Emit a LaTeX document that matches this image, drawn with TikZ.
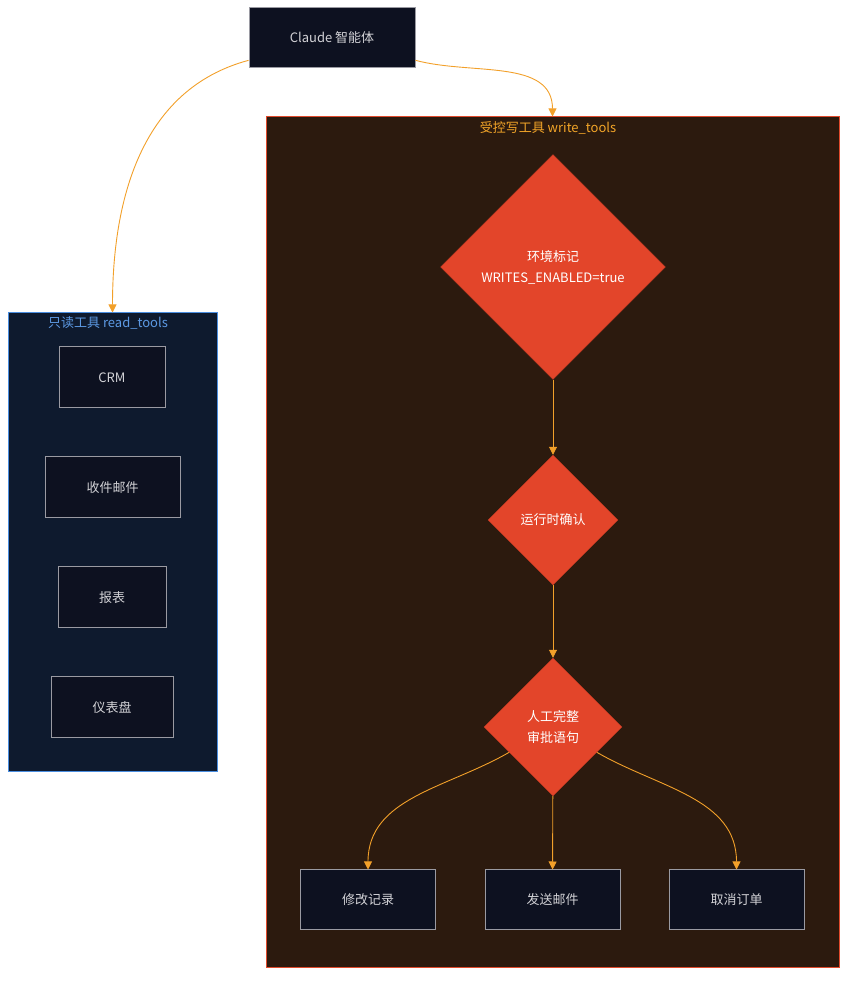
\documentclass[tikz,border=0pt]{standalone}
\usepackage{fontspec}
\setmainfont{Noto Sans CJK SC}
\usepackage{tikz}
\usetikzlibrary{arrows.meta,%
                shapes.geometric}

\definecolor{boxfill}{HTML}{0D1120}
\definecolor{boxline}{HTML}{9A9AA2}
\definecolor{boxtext}{HTML}{D2D2D6}
\definecolor{wfill}{HTML}{2C1A0E}
\definecolor{wline}{HTML}{E04A2C}
\definecolor{rfill}{HTML}{0E1A2E}
\definecolor{rline}{HTML}{4A8EE0}
\definecolor{dfill}{HTML}{E3452A}
\definecolor{flow}{HTML}{F2A02A}

\begin{document}
\begin{tikzpicture}[x=1pt, y=1pt]
  \tikzstyle{every node} = [inner sep = 0,
			    font = \fontsize{13}{21}\selectfont]
\tikzset{ToolBox/.style={draw=boxline, fill=boxfill, text=boxtext,
                         line width=1pt, minimum height=61pt}}
\tikzset{Gate/.style={diamond, aspect=1, draw=dfill!85!black, fill=dfill,
                      text=white, align=center}}
\tikzset{EdgeStyle/.style={draw=flow, line width=0.9pt,
                           -{Triangle[length=8pt, width=8pt]}}}
\useasboundingbox (0,0) rectangle (855,985);

% groups
\node[draw=wline, fill=wfill, line width=1pt,
      minimum width=573pt, minimum height=851pt] (WT) at (552.5,442.5) {};
\node[text=flow!95!yellow] (WL) at (548,857) {受控写工具 write\_tools};
\node[draw=rline, fill=rfill, line width=1pt,
      minimum width=209pt, minimum height=459pt] (RT) at (112.5,442.5) {};
\node[text=rline!90!white] (RL) at (108,662) {只读工具 read\_tools};

\node[ToolBox, minimum width=166pt, minimum height=60pt] (C0) at (332,947) {Claude 智能体};

\node[ToolBox, minimum width=106pt] (R0) at (112,607.5) {CRM};
\node[ToolBox, minimum width=135pt] (R1) at (112.5,497.5) {收件邮件};
\node[ToolBox, minimum width=108pt] (R2) at (112,387.5) {报表};
\node[ToolBox, minimum width=122pt] (R3) at (112,277.5) {仪表盘};

\node[Gate, minimum width=225pt, minimum height=225pt] (D0) at (553,718)
  {环境标记\\WRITES\_ENABLED=true};
\node[Gate, minimum width=130pt, minimum height=130pt] (D1) at (553,465) {运行时确认};
\node[Gate, minimum width=138pt, minimum height=138pt] (D2) at (553,258)
  {人工完整\\审批语句};

\node[ToolBox, minimum width=135pt, minimum height=60pt] (B0) at (368,85) {修改记录};
\node[ToolBox, minimum width=135pt, minimum height=60pt] (B1) at (552.5,85) {发送邮件};
\node[ToolBox, minimum width=135pt, minimum height=60pt] (B2) at (736.5,85) {取消订单};

\draw[EdgeStyle] (C0) to[out=195, in=90] (RT.north);
\draw[EdgeStyle] (C0) to[out=-15, in=90] (WT.north);
\draw[EdgeStyle] (D0) -- (D1);
\draw[EdgeStyle] (D1) -- (D2);
\draw[EdgeStyle] (D2) to[out=210, in=90] (B0);
\draw[EdgeStyle] (D2) -- (B1);
\draw[EdgeStyle] (D2) to[out=-30, in=90] (B2);

\end{tikzpicture}
\end{document}
